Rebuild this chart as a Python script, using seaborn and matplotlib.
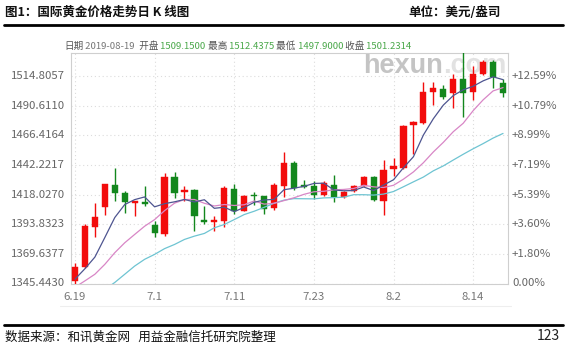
import numpy as np
import pandas as pd
import matplotlib
matplotlib.use("Agg")
import matplotlib.pyplot as plt
import matplotlib.transforms as mtrans
from matplotlib.lines import Line2D
import seaborn as sns

# ---------------- data ----------------
dates = ["6.19", "6.20", "6.21", "6.24", "6.25", "6.26", "6.27", "6.28",
         "7.1", "7.2", "7.3", "7.4", "7.5", "7.8", "7.9", "7.10", "7.11", "7.12",
         "7.15", "7.16", "7.17", "7.18", "7.19", "7.22", "7.23", "7.24", "7.25",
         "7.26", "7.29", "7.30", "7.31", "8.1", "8.2", "8.5", "8.6", "8.7", "8.8",
         "8.9", "8.12", "8.13", "8.14", "8.15", "8.16", "8.19"]
opens = [1347.1, 1359.2, 1391.7, 1407.9, 1426.1, 1419.3, 1411.2, 1412.0, 1393.0, 1386.0,
         1432.3, 1419.8, 1422.0, 1397.1, 1395.8, 1396.8, 1422.8, 1404.9, 1417.4, 1416.6,
         1407.1, 1425.2, 1443.7, 1426.1, 1424.7, 1417.9, 1426.1, 1416.1, 1420.6, 1425.2,
         1432.3, 1412.5, 1438.8, 1440.0, 1474.8, 1476.6, 1501.8, 1504.0, 1500.9, 1512.7,
         1501.8, 1516.7, 1526.2, 1509.15]
highs = [1362.5, 1393.6, 1411.2, 1427.0, 1439.6, 1420.6, 1412.8, 1424.7, 1396.3, 1435.6,
         1436.4, 1424.7, 1422.5, 1408.4, 1400.3, 1424.7, 1426.9, 1417.9, 1419.8, 1416.9,
         1427.4, 1453.1, 1445.8, 1430.1, 1428.7, 1428.7, 1434.2, 1420.6, 1426.1, 1432.8,
         1432.8, 1446.4, 1447.7, 1475.0, 1477.8, 1509.9, 1509.9, 1507.3, 1516.7, 1534.3,
         1522.6, 1527.5, 1527.5, 1512.4375]
lows = [1345.443, 1358.4, 1383.6, 1401.7, 1412.5, 1403.1, 1400.9, 1408.4, 1383.6, 1384.1,
        1415.5, 1412.5, 1388.2, 1393.6, 1388.2, 1391.7, 1402.5, 1404.4, 1409.8, 1402.5,
        1405.8, 1416.1, 1421.4, 1423.4, 1414.5, 1416.6, 1411.7, 1415.3, 1419.8, 1424.7,
        1412.5, 1401.7, 1432.8, 1439.0, 1451.0, 1476.0, 1490.9, 1495.6, 1488.3, 1481.5,
        1495.1, 1515.5, 1504.6, 1497.9]
closes = [1358.9, 1392.2, 1399.5, 1426.6, 1419.3, 1411.7, 1412.5, 1410.4, 1386.3, 1432.0,
          1419.3, 1422.0, 1400.3, 1395.5, 1397.1, 1423.4, 1404.4, 1417.1, 1416.6, 1406.3,
          1426.1, 1443.7, 1423.4, 1424.2, 1417.9, 1427.4, 1416.1, 1419.8, 1425.2, 1432.3,
          1413.3, 1438.2, 1441.5, 1474.0, 1477.5, 1501.8, 1504.6, 1497.3, 1512.7, 1500.9,
          1516.7, 1526.2, 1513.8, 1501.2314]
ma5 = [1349.0, 1357.5, 1367.0, 1383.0, 1399.3, 1409.9, 1413.9, 1416.1, 1408.0, 1410.6,
       1412.1, 1414.0, 1412.0, 1413.8, 1406.8, 1407.7, 1404.1, 1407.5, 1411.7, 1413.6,
       1414.1, 1422.0, 1423.2, 1424.7, 1427.1, 1427.3, 1421.8, 1421.1, 1421.3, 1424.2,
       1421.3, 1425.8, 1430.1, 1439.9, 1448.9, 1466.6, 1479.9, 1491.0, 1498.8, 1503.5,
       1506.4, 1510.8, 1514.1, 1511.8]
ma10 = [1342.4, 1347.6, 1353.0, 1361.1, 1370.6, 1378.7, 1385.5, 1392.2, 1397.6, 1404.9,
        1411.0, 1414.0, 1414.0, 1410.9, 1408.7, 1409.9, 1409.1, 1409.7, 1412.8, 1410.2,
        1410.9, 1413.1, 1415.4, 1418.2, 1420.3, 1420.7, 1421.9, 1422.2, 1423.0, 1425.6,
        1424.3, 1423.8, 1425.6, 1430.6, 1436.5, 1444.0, 1452.8, 1460.6, 1469.3, 1476.2,
        1486.5, 1495.3, 1502.6, 1505.3]
ma20 = [np.nan, np.nan, np.nan, 1340.5, 1346.3, 1353.0, 1359.7, 1365.2, 1369.2, 1373.9,
        1377.3, 1381.4, 1384.1, 1386.3, 1390.9, 1393.6, 1397.6, 1401.7, 1404.4, 1407.6,
        1410.9, 1413.5, 1414.7, 1414.6, 1414.5, 1415.3, 1415.5, 1415.9, 1417.9, 1417.9,
        1417.6, 1418.4, 1420.5, 1424.4, 1428.4, 1432.3, 1437.4, 1441.4, 1446.2, 1450.9,
        1455.4, 1459.6, 1464.1, 1467.9]

y_ticks = [1345.4430, 1369.6377, 1393.8323, 1418.0270, 1442.2217, 1466.4164, 1490.6110, 1514.8057]
y_tick_labels = ["1345.4430", "1369.6377", "1393.8323", "1418.0270",
                 "1442.2217", "1466.4164", "1490.6110", "1514.8057"]
pct_labels = ["0.00%", "+1.80%", "+3.60%", "+5.39%", "+7.19%", "+8.99%", "+10.79%", "+12.59%"]
x_tick_labels = ["6.19", "7.1", "7.11", "7.23", "8.2", "8.14"]

header = [("日期", "#555555"), (" 2019-08-19", "#777777"),
          ("  开盘", "#555555"), (" 1509.1500", "#4aa84a"),
          (" 最高", "#555555"), (" 1512.4375", "#4aa84a"),
          (" 最低", "#555555"), (" 1497.9000", "#4aa84a"),
          (" 收盘", "#555555"), (" 1501.2314", "#4aa84a")]

# ---------------- style ----------------
sns.set_theme(style="white")
FAM = ["Noto Sans CJK SC", "DejaVu Sans"]
plt.rcParams["font.family"] = FAM

W, H = 565, 346
fig = plt.figure(figsize=(W / 100, H / 100), dpi=100)
fig.patch.set_facecolor("white")

def fx(px):
    return px / W

def fy(py):
    return 1 - py / H

L, R, T, B = 71, 508, 53.3, 283.5
ax = fig.add_axes([fx(L), fy(B), (R - L) / W, (B - T) / H])
ax.set_facecolor("white")

df = pd.DataFrame({"idx": np.arange(len(dates)), "date": dates, "open": opens,
                   "high": highs, "low": lows, "close": closes,
                   "ma5": ma5, "ma10": ma10, "ma20": ma20})

RED = "#f20c0c"
GREEN = "#13871d"
up = df["close"] >= df["open"]
colors = np.where(up, RED, GREEN)

# wicks
ax.vlines(df["idx"], df["low"], df["high"], colors=colors, lw=1.0, zorder=3)
# bodies
body_bottom = np.minimum(df["open"], df["close"])
body_h = np.maximum(np.abs(df["close"] - df["open"]), 1.0)
ax.bar(df["idx"], body_h, bottom=body_bottom, width=0.62, color=colors,
       edgecolor=colors, linewidth=0.3, zorder=4)

# moving averages
sns.lineplot(data=df, x="idx", y="ma20", color="#6ec4d2", lw=0.9, ax=ax, zorder=5)
sns.lineplot(data=df, x="idx", y="ma10", color="#d886c6", lw=0.9, ax=ax, zorder=5)
sns.lineplot(data=df, x="idx", y="ma5", color="#4e5590", lw=0.9, ax=ax, zorder=5)

ax.set_xlim(-0.4, 43.5)
ax.set_ylim(1345.443, 1533.3)
tick_idx = [dates.index(d) for d in x_tick_labels]
ax.set_xticks(tick_idx)
ax.set_yticks(y_ticks)
ax.set_xticklabels([])
ax.set_yticklabels([])
ax.set_xlabel("")
ax.set_ylabel("")
ax.tick_params(length=0)
ax.grid(True, color="#dcdcdc", lw=0.8, ls=(0, (1, 2.5)))
for s in ax.spines.values():
    s.set_visible(True)
    s.set_color("#cfcfcf")
    s.set_linewidth(0.8)

# watermark
wm = ax.text(0.668, 0.913, "hexun", transform=ax.transAxes, fontsize=19.5,
             family=["Liberation Sans", "DejaVu Sans"], weight="bold",
             color="#c4c4c4", va="baseline", ha="left", zorder=1, clip_on=True)
ax.annotate(".com", xy=(1, 0), xycoords=wm, xytext=(0, 0), textcoords="offset points",
            fontsize=19.5, family=["Liberation Sans", "DejaVu Sans"], weight="bold",
            color="#e2e2e2", va="bottom", ha="left", zorder=1, annotation_clip=False)

# axis labels (left prices, right percents)
tl = mtrans.blended_transform_factory(fig.transFigure, ax.transData)
for v, lab, pl in zip(y_ticks, y_tick_labels, pct_labels):
    fig.text(fx(65), v, lab, transform=tl, ha="right", va="center",
             fontsize=8.2, color="#666666")
    fig.text(fx(512), v, pl, transform=tl, ha="left", va="center",
             fontsize=8.2, color="#666666")

tb = mtrans.blended_transform_factory(ax.transData, fig.transFigure)
for i, lab in zip(tick_idx, x_tick_labels):
    ax.text(i, fy(297), lab, transform=tb, ha="center", va="center",
            fontsize=8.2, color="#777777", clip_on=False)

# faint strip line under the chart image
fig.add_artist(Line2D([fx(60), fx(511)], [fy(306), fy(306)], lw=0.8, color="#eeeeee"))

# title and unit
fig.text(fx(5), fy(12), "图1：国际黄金价格走势日 K 线图", fontsize=9, weight="bold",
         va="center", ha="left", color="#111111")
fig.text(fx(408), fy(12), "单位：美元/盎司", fontsize=9, weight="bold",
         va="center", ha="left", color="#111111")
fig.add_artist(Line2D([fx(4), fx(563)], [fy(24.5), fy(24.5)], lw=2.0, color="black"))

# header (date / OHLC)
prev = fig.text(fx(64), fy(46), header[0][0], fontsize=6.9, color=header[0][1],
                va="center", ha="left")
for txt, col in header[1:]:
    prev = ax.annotate(txt, xy=(1, 0), xycoords=prev, xytext=(0, 0),
                       textcoords="offset points", fontsize=6.9, color=col,
                       va="bottom", ha="left", annotation_clip=False)

# footer
fig.add_artist(Line2D([fx(4), fx(563)], [fy(325), fy(325)], lw=2.0, color="black"))
fig.text(fx(5), fy(337), "数据来源：和讯黄金网   用益金融信托研究院整理", fontsize=9,
         va="center", ha="left", color="#111111")
fig.text(fx(560), fy(336), "123", fontsize=10, va="center", ha="right", color="#222222")

fig.savefig("out.png", dpi=100)
